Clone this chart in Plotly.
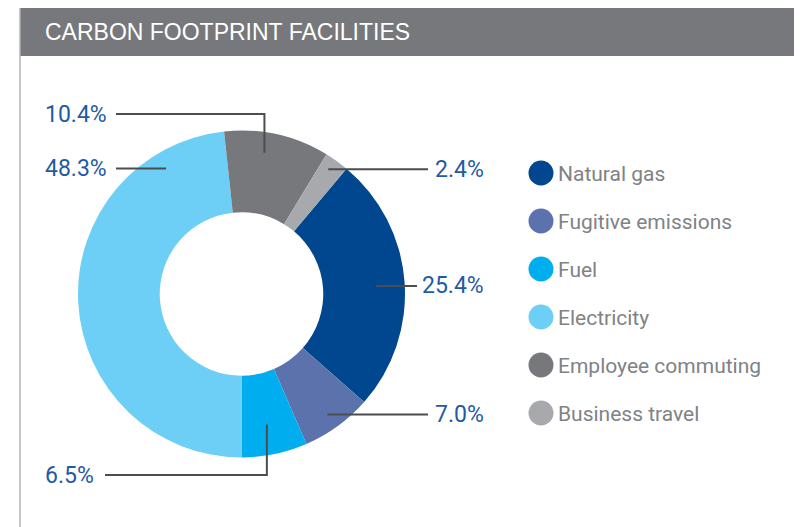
import math
import plotly.graph_objects as go

# ---------------- data ----------------
categories = ["Natural gas", "Fugitive emissions", "Fuel", "Electricity",
              "Employee commuting", "Business travel"]
shares = [25.4, 7.0, 6.5, 48.3, 10.4, 2.4]
colors = ["#00478f", "#5b72ad", "#00aeef", "#6dcff6", "#77787b", "#a7a9ac"]
title_text = "CARBON FOOTPRINT FACILITIES"

# ---------------- layout constants (screen pixels) ----------------
VW, VH = 802, 527          # browser window
OFF = 8                    # default page margin around the plot div
W, H = VW - OFF, VH - OFF  # figure size
CX, CY, R = 241.5, 294.0, 163.5
HOLE = 0.5
FONT = "Roboto, Liberation Sans, Arial, sans-serif"
LABEL_BLUE = "#1f5aa5"
GREY_TXT = "#808285"
LINE_COL = "#4d4d4f"
LEFT_COL, RIGHT_COL = 43, 486

# label placement: fraction along slice, anchor radius, side, optional row, line end x
label_cfg = {
    "Natural gas":        dict(frac=0.51, rad=135, side="right", end=417),
    "Fugitive emissions": dict(frac=0.52, rad=148, side="right", end=428),
    "Fuel":               dict(frac=0.53, rad=133, side="left", row=475, end=105),
    "Electricity":        dict(frac=0.857, rad=146.5, side="left", end=116),
    "Employee commuting": dict(frac=0.41, rad=143, side="left", row=114, end=116),
    "Business travel":    dict(frac=0.40, rad=152, side="right", end=428),
}

total = sum(shares)
# Electricity begins at 6 o'clock; slices go clockwise
idx_el = categories.index("Electricity")
rotation = 180 - 360 * sum(shares[:idx_el]) / total


def px_x(x):
    return (x - OFF) / W


def px_y(y):
    return 1 - (y - OFF) / H


fig = go.Figure()

fig.add_trace(go.Pie(
    labels=categories, values=shares, sort=False, direction="clockwise",
    rotation=rotation, hole=HOLE,
    marker=dict(colors=colors, line=dict(width=0)),
    textinfo="none", hoverinfo="label+percent", showlegend=False,
    domain=dict(x=[px_x(CX - R), px_x(CX + R)], y=[px_y(CY + R), px_y(CY - R)]),
))

# legend drawn as scatters on pixel axes
legend_x, legend_tx = 541, 558
legend_y0, legend_dy = 173, 48
legend_rows = [legend_y0 + legend_dy * i for i in range(len(categories))]
fig.add_trace(go.Scatter(
    x=[legend_x] * len(categories), y=legend_rows, mode="markers",
    marker=dict(size=25, color=colors, line=dict(width=0)),
    hoverinfo="skip", showlegend=False,
))
fig.add_trace(go.Scatter(
    x=[legend_tx] * len(categories), y=[r + 2.5 for r in legend_rows],
    mode="text", text=categories, textposition="middle right",
    textfont=dict(family=FONT, size=21, color=GREY_TXT),
    hoverinfo="skip", showlegend=False, cliponaxis=False,
))

shapes = []
annotations = []

# title bar and frame
shapes.append(dict(type="rect", xref="x", yref="y", x0=20, x1=VW + 2, y0=7, y1=56,
                   fillcolor="#77787b", line=dict(width=0), layer="below"))
shapes.append(dict(type="line", xref="x", yref="y", x0=20, x1=20, y0=7, y1=VH + 2,
                   line=dict(color="#b1b2b4", width=1.5), layer="below"))
annotations.append(dict(x=43, y=32, xref="x", yref="y", text=title_text, showarrow=False,
                        xanchor="left", yanchor="middle",
                        font=dict(family="Liberation Sans, Arial, sans-serif", size=23, color="white")))

# value labels with leader lines
cum = 0.0
for cat, val in zip(categories, shares):
    a0 = rotation + 360 * cum / total
    a1 = a0 + 360 * val / total
    cum += val
    cfg = label_cfg[cat]
    ang = math.radians(a0 + cfg["frac"] * (a1 - a0))
    ax = CX + cfg["rad"] * math.sin(ang)
    ay = CY - cfg["rad"] * math.cos(ang)
    row = cfg.get("row", ay)
    if "row" in cfg:
        path = f"M {ax},{ay} L {ax},{row} L {cfg['end']},{row}"
    else:
        path = f"M {ax},{ay} L {cfg['end']},{ay}"
    shapes.append(dict(type="path", xref="x", yref="y", path=path,
                       line=dict(color=LINE_COL, width=2), layer="above"))
    if cfg["side"] == "left":
        tx, xa = LEFT_COL, "left"
    else:
        tx, xa = RIGHT_COL, "right"
    annotations.append(dict(x=tx, y=row, xref="x", yref="y", text=f"{val:.1f}%",
                            showarrow=False, xanchor=xa, yanchor="middle",
                            font=dict(family=FONT, size=23, color=LABEL_BLUE)))

fig.update_layout(
    width=W, height=H,
    margin=dict(l=0, r=0, t=0, b=0, pad=0),
    paper_bgcolor="white", plot_bgcolor="rgba(0,0,0,0)",
    xaxis=dict(range=[OFF, VW], visible=False, fixedrange=True, domain=[0, 1]),
    yaxis=dict(range=[VH, OFF], visible=False, fixedrange=True, domain=[0, 1]),
    shapes=shapes, annotations=annotations, showlegend=False,
)

fig.write_html("out.html")
